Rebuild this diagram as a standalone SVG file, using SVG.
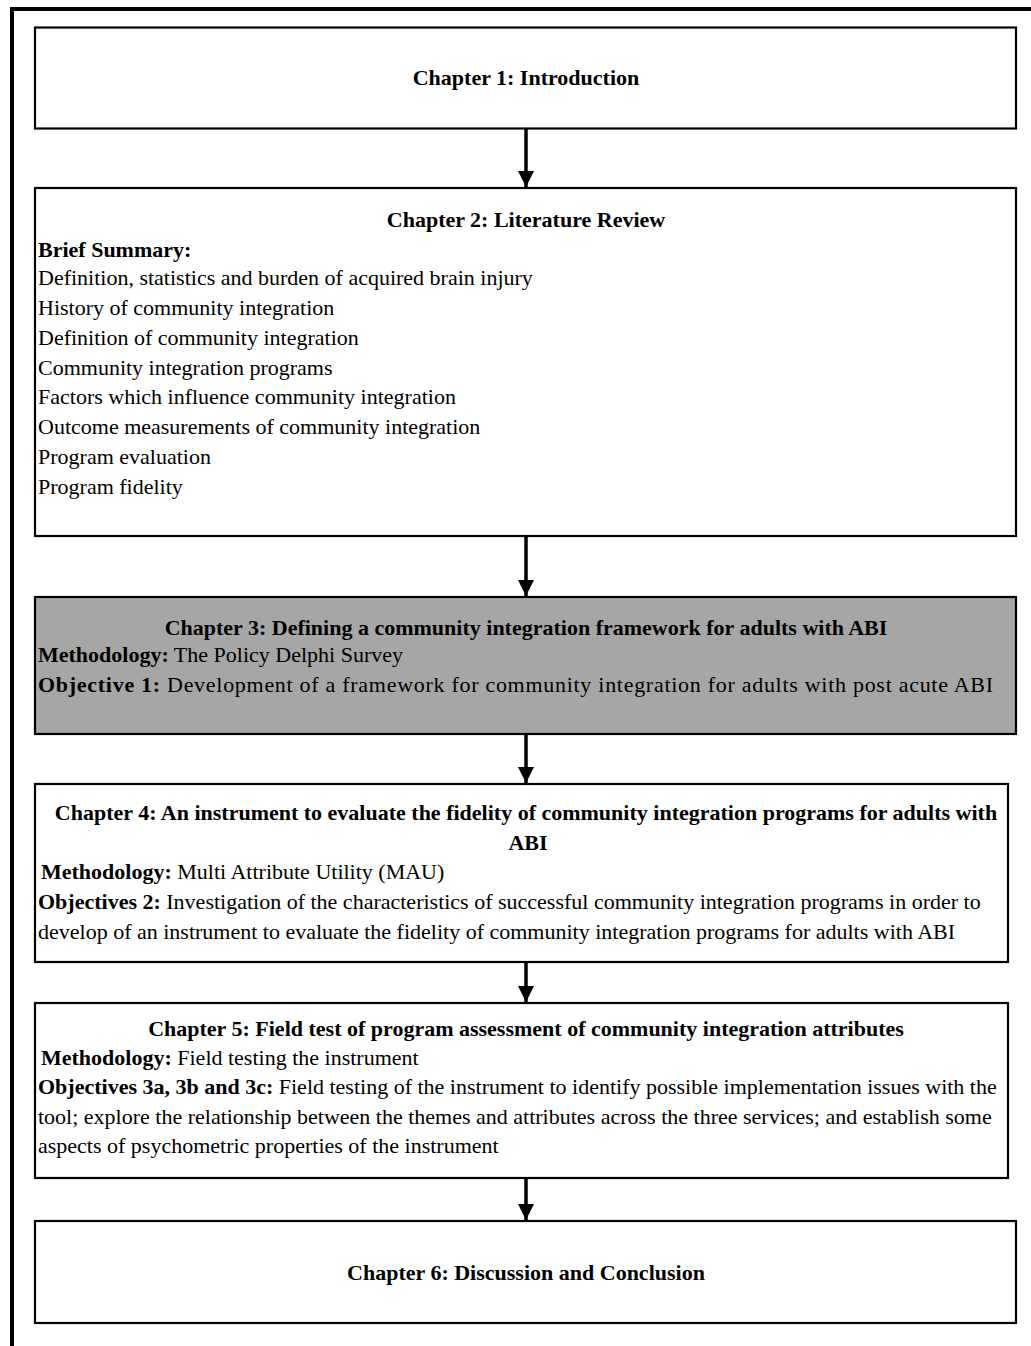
<svg xmlns="http://www.w3.org/2000/svg" width="1031" height="1346" viewBox="0 0 1031 1346">
<defs>
<style>
.box{fill:#fff;stroke:#000;stroke-width:2.2}
.grey{fill:#a6a6a6}
text{font-family:"Liberation Serif","Times New Roman",serif;font-size:22px;fill:#000}
.b{font-weight:bold}
.c{text-anchor:middle}
.conn{stroke:#000;stroke-width:3.5;fill:none}
</style>
<marker id="ah" markerUnits="userSpaceOnUse" markerWidth="16" markerHeight="18" refX="16" refY="8" orient="auto">
<path d="M0,0 L16,8 L0,16 Z" fill="#000"/>
</marker>
</defs>
<rect width="1031" height="1346" fill="#fff"/>
<g id="frame">
<path d="M12,1346 L12,9 L1031,9" fill="none" stroke="#000" stroke-width="4"/>
</g>
<g id="connectors">
<line class="conn" x1="526" y1="128" x2="526" y2="187" marker-end="url(#ah)"/>
<line class="conn" x1="526" y1="536" x2="526" y2="596" marker-end="url(#ah)"/>
<line class="conn" x1="526" y1="734" x2="526" y2="783" marker-end="url(#ah)"/>
<line class="conn" x1="526" y1="962" x2="526" y2="1002" marker-end="url(#ah)"/>
<line class="conn" x1="526" y1="1178" x2="526" y2="1220" marker-end="url(#ah)"/>
</g>
<g id="ch1">
<rect class="box" x="35" y="27.5" width="981" height="101"/>
<text class="b c" x="526" y="85">Chapter 1: Introduction</text>
</g>
<g id="ch2">
<rect class="box" x="35" y="188" width="981" height="348"/>
<text class="b c" x="526" y="227">Chapter 2: Literature Review</text>
<text class="b" x="38" y="257">Brief Summary:</text>
<text x="38" y="285">Definition, statistics and burden of acquired brain injury</text>
<text x="38" y="315">History of community integration</text>
<text x="38" y="345">Definition of community integration</text>
<text x="38" y="375">Community integration programs</text>
<text x="38" y="404">Factors which influence community integration</text>
<text x="38" y="434">Outcome measurements of community integration</text>
<text x="38" y="464">Program evaluation</text>
<text x="38" y="494">Program fidelity</text>
</g>
<g id="ch3">
<rect class="box grey" x="35" y="597" width="981" height="137"/>
<text class="b c" x="526" y="635">Chapter 3: Defining a community integration framework for adults with ABI</text>
<text x="38" y="662"><tspan class="b">Methodology:</tspan> The Policy Delphi Survey</text>
<text x="38" y="692" textLength="955" lengthAdjust="spacing"><tspan class="b">Objective 1:</tspan> Development of a framework for community integration for adults with post acute ABI</text>
</g>
<g id="ch4">
<rect class="box" x="35" y="784" width="973" height="178"/>
<text class="b c" x="526" y="820">Chapter 4: An instrument to evaluate the fidelity of community integration programs for adults with</text>
<text class="b c" x="528" y="850">ABI</text>
<text x="41" y="879"><tspan class="b">Methodology:</tspan> Multi Attribute Utility (MAU)</text>
<text x="38" y="909"><tspan class="b">Objectives 2:</tspan> Investigation of the characteristics of successful community integration programs in order to</text>
<text x="38" y="939">develop of an instrument to evaluate the fidelity of community integration programs for adults with ABI</text>
</g>
<g id="ch5">
<rect class="box" x="35" y="1003" width="973" height="175"/>
<text class="b c" x="526" y="1036">Chapter 5: Field test of program assessment of community integration attributes</text>
<text x="41" y="1065"><tspan class="b">Methodology:</tspan> Field testing the instrument</text>
<text x="38" y="1094"><tspan class="b">Objectives 3a, 3b and 3c:</tspan> Field testing of the instrument to identify possible implementation issues with the</text>
<text x="38" y="1124">tool; explore the relationship between the themes and attributes across the three services; and establish some</text>
<text x="38" y="1153">aspects of psychometric properties of the instrument</text>
</g>
<g id="ch6">
<rect class="box" x="35" y="1221" width="981" height="102"/>
<text class="b c" x="526" y="1280">Chapter 6: Discussion and Conclusion</text>
</g>
</svg>
